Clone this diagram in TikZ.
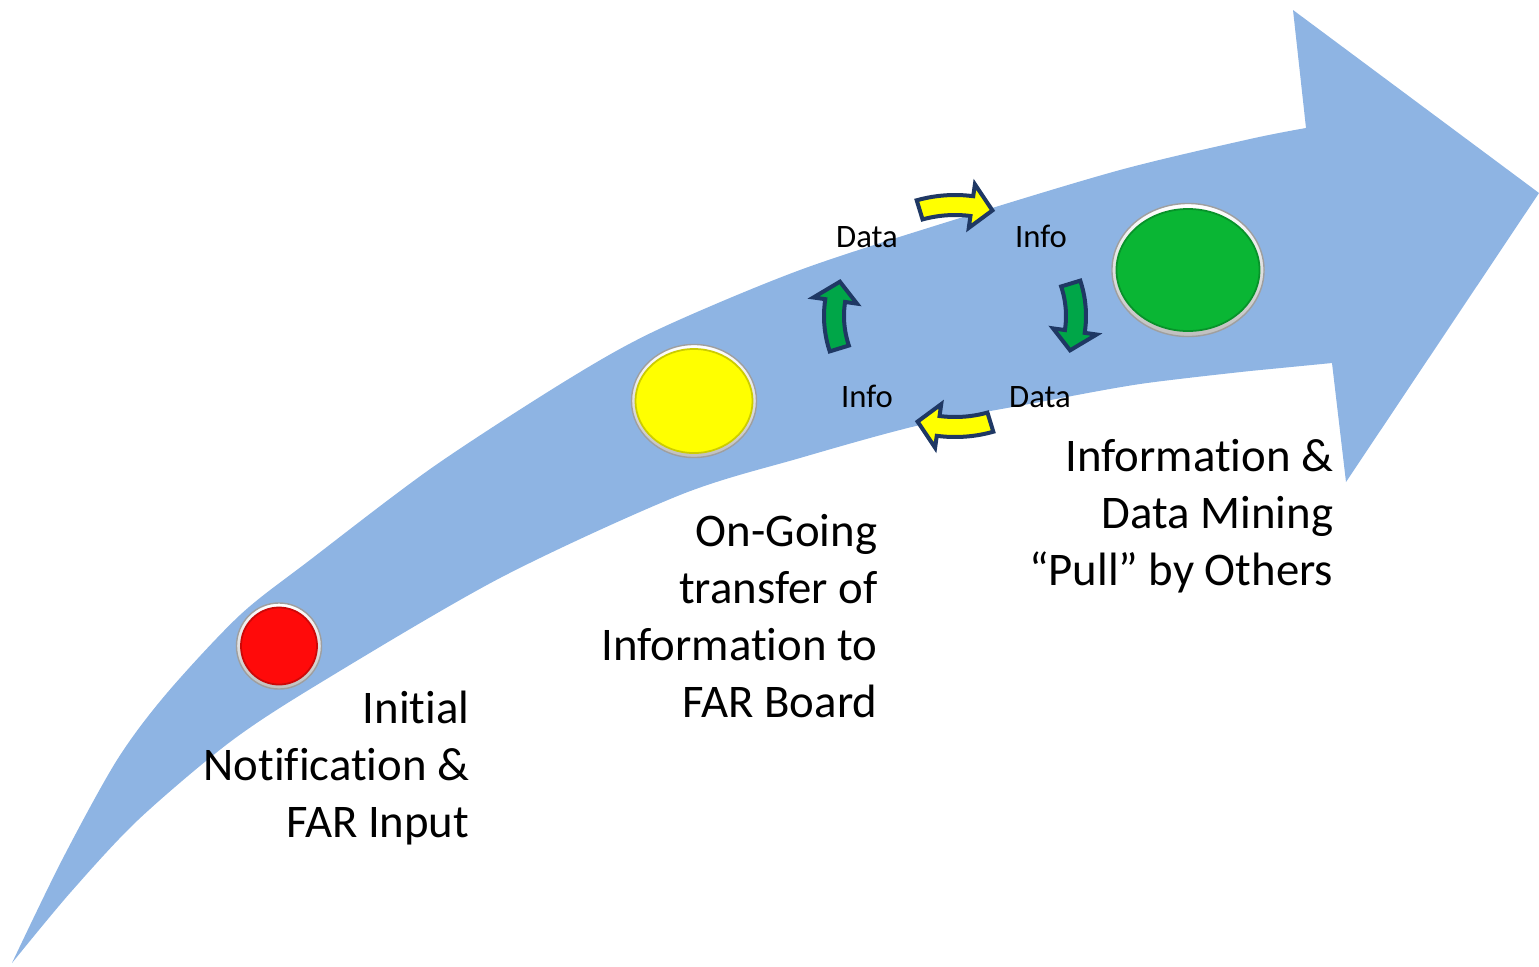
\documentclass[tikz,border=0pt]{standalone}
\usepackage{fontspec}
\setmainfont[Ligatures=NoCommon]{Carlito}
\usetikzlibrary{positioning,shapes.geometric}

\definecolor{flowblue}{RGB}{142,180,227}
\definecolor{loopgreen}{RGB}{0,166,72}
\definecolor{btngreen}{RGB}{10,182,52}
\definecolor{btnred}{RGB}{255,10,10}
\definecolor{btnyellow}{RGB}{255,255,0}
\definecolor{navy}{RGB}{31,56,100}

\tikzset{
  ring/.style={ellipse, inner sep=0pt, draw=gray!75, line width=0.4pt,
    top color=white, bottom color=gray!50},
  button/.style={ellipse, inner sep=0pt, fill=#1, draw=#1!80!black,
    line width=0.5pt},
  bigtxt/.style={align=right, inner sep=0pt,
    font=\fontsize{13.3}{16.2}\selectfont},
  smalltxt/.style={inner sep=0pt, font=\fontsize{9.3}{11}\selectfont},
  looparrow/.style={draw=navy, line width=0.04cm, line join=miter}
}

% curved block arrow on the small loop: #1 = angle, #2 = fill
\newcommand{\looparrow}[2]{%
  \filldraw[looparrow, fill=#2]
    plot[domain=#1-17:#1+8, variable=\t, samples=12]
      ({955+131*cos(\t)}, {316+121*sin(\t)})
    -- ({955+143*cos(#1+8)}, {316+133*sin(#1+8)})
    -- ({955+121*cos(#1+18)}, {316+111*sin(#1+18)})
    -- ({955+99*cos(#1+8)}, {316+89*sin(#1+8)})
    -- plot[domain=#1+8:#1-17, variable=\t, samples=12]
      ({955+111*cos(\t)}, {316+101*sin(\t)})
    -- cycle;}

\begin{document}
\begin{tikzpicture}[x=0.01cm, y=-0.01cm]
  \useasboundingbox (0,0) rectangle (1539,966);

  % the big curved arrow
  \fill[flowblue] plot[smooth] coordinates {(12,963) (62,860) (117,760)
      (167,693) (240,615) (310,560) (433,467) (567,380) (657,330) (800,270)
      (960,218) (1120,170) (1250,139) (1306,128)}
    -- (1293,10) -- (1539,193) -- (1346,482) -- (1332,363)
    -- plot[smooth] coordinates {(1250,371) (1140,384) (1040,402) (920,425)
      (800,458) (680,495) (500,578) (320,683) (230,742) (138,820) (70,893)
      (12,963)}
    -- cycle;

  % buttons
  \node[ring, minimum width=0.85cm, minimum height=0.86cm] (redring) at (279,646) {};
  \node[button=btnred, minimum width=0.76cm, minimum height=0.77cm] (red) at (redring) {};
  \node[ring, minimum width=1.25cm, minimum height=1.13cm] (yelring) at (694,401) {};
  \node[button=btnyellow, minimum width=1.17cm, minimum height=1.04cm] (yel) at (yelring) {};
  \node[ring, minimum width=1.52cm, minimum height=1.33cm] (grnring) at (1188,270) {};
  \node[button=btngreen, minimum width=1.43cm, minimum height=1.22cm] (grn) at (grnring) {};

  % small loop
  \looparrow{-90}{btnyellow}
  \looparrow{0}{loopgreen}
  \looparrow{90}{btnyellow}
  \looparrow{180}{loopgreen}

  \node[smalltxt, anchor=base] (data1) at (867,247) {Data};
  \node[smalltxt, anchor=base] (info1) at (1041,247) {Info};
  \node[smalltxt, anchor=base] (info2) at (867,407) {Info};
  \node[smalltxt, anchor=base] (data2) at (1040,407) {Data};

  % stage texts
  \node[bigtxt, anchor=base east] (stage1) at (470,837)
    {Initial\\Notification \&\\FAR Input};
  \node[bigtxt, anchor=base east] (stage2) at (878,717)
    {On-Going\\transfer of\\Information to\\FAR Board};
  \node[bigtxt, anchor=base east] (stage3) at (1334,585)
    {Information \&\\Data Mining\\“Pull” by Others};
\end{tikzpicture}
\end{document}
